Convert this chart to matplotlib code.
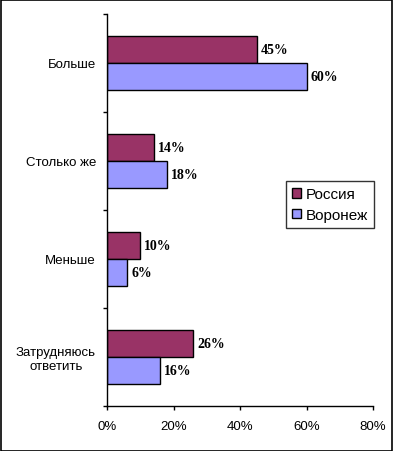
import matplotlib
matplotlib.use("Agg")
import matplotlib.pyplot as plt
from matplotlib.patches import Rectangle
import numpy as np

categories = ["Больше", "Столько же", "Меньше", "Затрудняюсь\nответить"]
russia = [45, 14, 10, 26]
voronezh = [60, 18, 6, 16]
series_names = ["Россия", "Воронеж"]
xticks = [0, 20, 40, 60, 80]
xtick_labels = ["0%", "20%", "40%", "60%", "80%"]

plt.rcParams['font.family'] = ['Liberation Sans', 'DejaVu Sans']

fig = plt.figure(figsize=(3.93, 4.52), dpi=100)
ax = fig.add_axes([107/393, 45/452, 266/393, 392/452])

y = np.arange(len(categories))
h = 0.28
c_r = "#993366"
c_v = "#9999FF"
b1 = ax.barh(y - h/2, russia, height=h, color=c_r, edgecolor="black", linewidth=1, label=series_names[0])
b2 = ax.barh(y + h/2, voronezh, height=h, color=c_v, edgecolor="black", linewidth=1, label=series_names[1])

for bars, vals in ((b1, russia), (b2, voronezh)):
    for rect, v in zip(bars, vals):
        ax.annotate(f"{v}%", (rect.get_width(), rect.get_y() + rect.get_height()/2),
                    xytext=(3, 0), textcoords="offset points", va="center", ha="left",
                    fontsize=10, fontweight="bold", family="Liberation Serif")

ax.set_xlim(0, 80)
ax.set_ylim(len(categories) - 0.5, -0.5)
ax.set_xticks(xticks)
ax.set_xticklabels(xtick_labels, fontsize=9.5)
ax.set_yticks(y)
ax.set_yticklabels(categories, fontsize=9.5, multialignment="center")
ax.tick_params(axis="y", length=0, pad=8)
ax.set_yticks(np.arange(len(categories) + 1) - 0.5, minor=True)
ax.tick_params(axis="y", which="minor", length=3, width=1, direction="out")
ax.tick_params(axis="x", length=3, width=1, direction="out", pad=7)
for s in ("top", "right"):
    ax.spines[s].set_visible(False)
for s in ("left", "bottom"):
    ax.spines[s].set_linewidth(1)

leg = fig.legend(handles=[b1, b2], labels=series_names, loc="upper left",
                 bbox_to_anchor=(286/393, 1 - 182/452), bbox_transform=fig.transFigure,
                 fontsize=11, frameon=True, fancybox=False, edgecolor="black",
                 handlelength=0.6, handleheight=0.6, handletextpad=0.3,
                 borderpad=0.4, labelspacing=0.45, borderaxespad=0)
leg.get_frame().set_linewidth(1)

fig.patches.append(Rectangle((0.5/393, 0.5/452), 1 - 1.5/393, 1 - 1.5/452,
                             transform=fig.transFigure, fill=False,
                             edgecolor="black", linewidth=1.2))

fig.savefig("out.png", dpi=100)
